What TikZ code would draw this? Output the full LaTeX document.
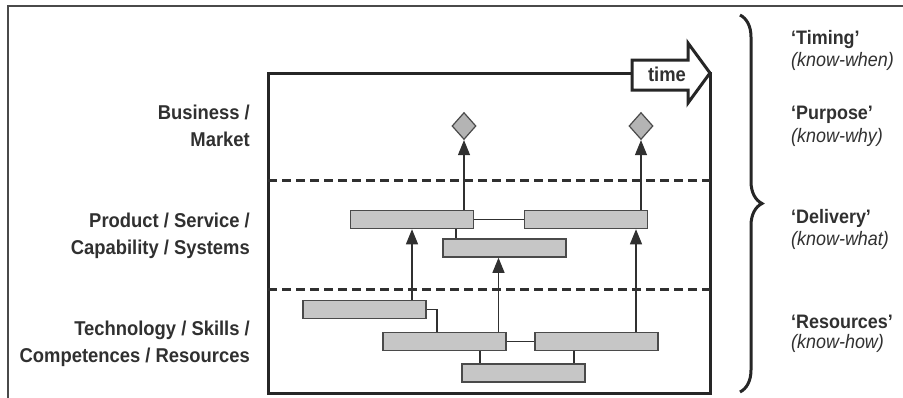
\documentclass[tikz,border=0pt]{standalone}
\usepackage{fontspec}
\setmainfont{Liberation Sans}
\newfontfamily\narrowfont{Liberation Sans}[FakeStretch=0.92]
\usetikzlibrary{shapes.geometric,arrows.meta,decorations.pathreplacing}
\definecolor{ink}{HTML}{303030}
\definecolor{boxfill}{HTML}{C6C6C6}
\definecolor{boxline}{HTML}{4A4A4A}
\definecolor{diafill}{HTML}{B4B4B4}
\begin{document}
\begin{tikzpicture}[x=1pt,y=-1pt,
  rbox/.style={draw=boxline,fill=boxfill,line width=1.5pt,minimum width=123pt,minimum height=18pt,inner sep=0pt},
  dia/.style={draw=boxline,fill=diafill,diamond,line width=1.2pt,minimum width=24pt,minimum height=27pt,inner sep=0pt},
  conn/.style={draw=ink,line width=1.1pt},
  upar/.style={conn,-{Triangle[length=15pt,width=12pt,fill=ink]}},
  lab/.style={text=ink,font=\narrowfont\bfseries\fontsize{20}{27}\selectfont,align=right,anchor=east,inner sep=0pt},
  rlab/.style={text=ink,font=\narrowfont\bfseries\fontsize{19.5}{22}\selectfont,anchor=west,inner sep=0pt},
  rsub/.style={text=ink,font=\narrowfont\itshape\fontsize{19.5}{22}\selectfont,anchor=west,inner sep=0pt},
  sep/.style={draw=ink,line width=3pt,dash pattern=on 9pt off 5pt}
]
\useasboundingbox (0,0) rectangle (903,397);
% outer frame
\draw[draw=boxline,line width=1.5pt] (8,420) -- (8,6) -- (920,6);
% main box
\draw[draw=black!85,line width=3pt] (268,73) rectangle (710,393);
% separators
\draw[sep] (268,180) -- (710,180);
\draw[sep] (268,289) -- (710,289);
% time arrow
\draw[draw=black!85,fill=white,line width=3pt,line join=miter]
  (632,60) -- (688,60) -- (688,43) -- (710,73) -- (688,103) -- (688,90) -- (632,90) -- cycle;
\node[text=ink,font=\narrowfont\bfseries\fontsize{20}{22}\selectfont] (time) at (667,74) {time};
% boxes
\node[rbox] (r1) at (412,219.5) {};
\node[rbox] (r2) at (586,219.5) {};
\node[rbox] (r3) at (504.5,248) {};
\node[rbox] (r4) at (364.5,309.5) {};
\node[rbox] (r5) at (444.5,341.5) {};
\node[rbox] (r6) at (596.5,341.5) {};
\node[rbox] (r7) at (523.5,373) {};
\node[dia] (d1) at (464,126) {};
\node[dia] (d2) at (641,126) {};
% connectors
\draw[upar] (d1.south |- r1.north) -- (d1.south);
\draw[upar] (d2.south |- r2.north) -- (d2.south);
\draw[conn] (r1.east) -- (r2.west);
\draw[conn] ([xshift=44pt]r1.south) -- ([xshift=44pt]r1.south |- r3.north);
\draw[upar] (r4.north -| r1.south) -- (r1.south);
\draw[upar] ([xshift=-6pt]r3.south |- r5.north) -- ([xshift=-6pt]r3.south);
\draw[upar] ([xshift=50pt]r2.south |- r6.north) -- ([xshift=50pt]r2.south);
\draw[conn] (r4.east) -| ([xshift=-7.5pt]r5.north);
\draw[conn] (r5.east) -- (r6.west);
\draw[conn] ([xshift=35.5pt]r5.south) -- ([xshift=35.5pt]r5.south |- r7.north);
\draw[conn] ([xshift=-22.5pt]r6.south) -- ([xshift=-22.5pt]r6.south |- r7.north);
% left labels
\node[lab] (l1) at (250,126) {Business /\\Market};
\node[lab] (l2) at (250,236) {Product / Service /\\Capability / Systems};
\node[lab] (l3) at (250,344) {Technology / Skills /\\Competences / Resources};
% brace
\draw[draw=black!85,line width=3pt,decorate,decoration={brace,amplitude=22pt,aspect=0.5}] (740,15) -- (740,392);
% right labels
\node[rlab] (t1) at (791,39) {‘Timing’};
\node[rsub] (t2) at (791,61) {(know-when)};
\node[rlab] (p1) at (791,115) {‘Purpose’};
\node[rsub] (p2) at (791,137) {(know-why)};
\node[rlab] (v1) at (791,218) {‘Delivery’};
\node[rsub] (v2) at (791,240) {(know-what)};
\node[rlab] (s1) at (791,322) {‘Resources’};
\node[rsub] (s2) at (791,343) {(know-how)};
\end{tikzpicture}
\end{document}
